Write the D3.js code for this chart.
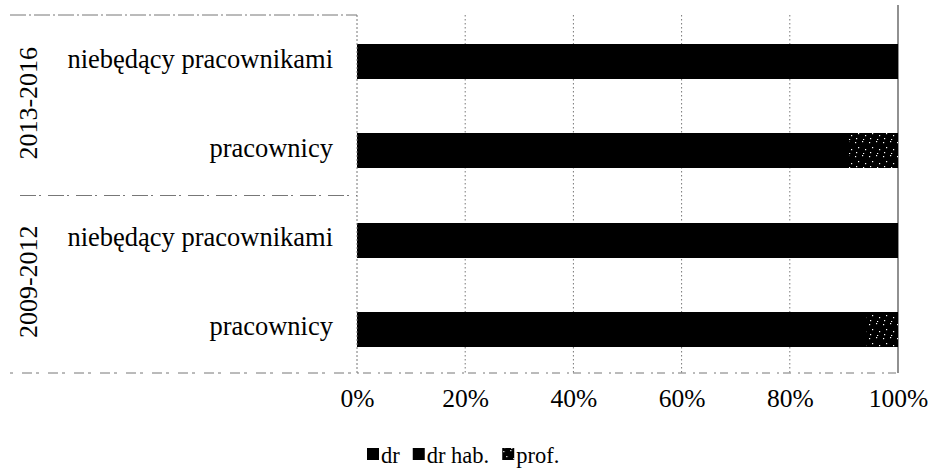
<!DOCTYPE html>
<html>
<head>
<meta charset="utf-8">
<script src="https://cdn.jsdelivr.net/npm/d3@7/dist/d3.min.js"></script>
<style>
  html, body { margin: 0; padding: 0; background: #fff; }
</style>
</head>
<body>
<svg id="chart" width="930" height="470" font-family="Liberation Serif"></svg>
<script>
// Row categories (top to bottom) and the period each row belongs to
const periods = ["2013-2016", "2009-2012"];
const rowLabels = ["niebędący pracownikami", "pracownicy", "niebędący pracownikami", "pracownicy"];
const rowPeriods = ["2013-2016", "2013-2016", "2009-2012", "2009-2012"];

// Share of each academic degree, in percent
const seriesNames = ["dr", "dr hab.", "prof."];
const drValues    = [100, 88, 100, 92];
const drHabValues = [0, 3, 0, 2];
const profValues  = [0, 9, 0, 6];

const tickValues = [0, 20, 40, 60, 80, 100];
const tickLabels = ["0%", "20%", "40%", "60%", "80%", "100%"];

const FONT = '"Liberation Serif"';
const serif = sel => sel.attr("font-family", "Liberation Serif").style("font-family", FONT);

const svg = d3.select("#chart");
const plot = { left: 357, right: 898, top: 15, bottom: 373 };

// Speckled fill for the "prof." segment
const defs = svg.append("defs");
const pat = defs.append("pattern")
  .attr("id", "speckle").attr("patternUnits", "userSpaceOnUse")
  .attr("width", 14).attr("height", 14);
pat.append("rect").attr("width", 14).attr("height", 14).attr("fill", "#000");
[[1, 2], [8, 1], [4, 7], [11, 9], [2, 12], [9, 13]].forEach(([x, y]) =>
  pat.append("rect").attr("x", x).attr("y", y).attr("width", 1.2).attr("height", 1.2).attr("fill", "#fff"));

const x = d3.scaleLinear().domain([0, 100]).range([plot.left, plot.right]);
const y = d3.scaleBand()
  .domain(d3.range(rowLabels.length))
  .range([plot.top + 2, plot.bottom + 1])
  .paddingInner(0.61).paddingOuter(0.305);

const fills = { "dr": "#000", "dr hab.": "#000", "prof.": "url(#speckle)" };

// Vertical gridlines
svg.append("g")
  .selectAll("line").data(tickValues.filter(v => v > 0 && v < 100)).join("line")
  .attr("x1", d => x(d)).attr("x2", d => x(d))
  .attr("y1", plot.top).attr("y2", plot.bottom)
  .attr("stroke", "#777").attr("stroke-width", 1).attr("stroke-dasharray", "1.5,2.5");

// 100% line
svg.append("line")
  .attr("x1", x(100)).attr("x2", x(100)).attr("y1", 5).attr("y2", plot.bottom)
  .attr("stroke", "#555").attr("stroke-width", 1.3);

// Stacked bars
const rows = rowLabels.map((label, i) => ({
  i, "dr": drValues[i], "dr hab.": drHabValues[i], "prof.": profValues[i]
}));
const stacked = d3.stack().keys(seriesNames)(rows);
svg.append("g").attr("shape-rendering", "crispEdges")
  .selectAll("g").data(stacked).join("g")
  .attr("fill", s => fills[s.key])
  .selectAll("rect").data(s => s).join("rect")
  .attr("x", d => x(d[0]))
  .attr("width", d => x(d[1]) - x(d[0]))
  .attr("y", d => y(d.data.i))
  .attr("height", y.bandwidth());

// Category axis frame lines
const frame = svg.append("g").attr("stroke", "#777").attr("stroke-width", 1).attr("fill", "none");
frame.append("line").attr("x1", 10).attr("x2", plot.left).attr("y1", plot.top).attr("y2", plot.top)
  .attr("stroke-dasharray", "16,3,2,3");
const sepY = (y(1) + y.bandwidth() + y(2)) / 2;
frame.append("line").attr("x1", 20).attr("x2", plot.left).attr("y1", sepY).attr("y2", sepY)
  .attr("stroke-dasharray", "16,3,2,7");
frame.append("line").attr("x1", 10).attr("x2", plot.left).attr("y1", plot.bottom).attr("y2", plot.bottom)
  .attr("stroke-dasharray", "3,9,10,4");
frame.append("line").attr("x1", plot.left).attr("x2", plot.right).attr("y1", plot.bottom).attr("y2", plot.bottom)
  .attr("stroke-dasharray", "2,4,8,7");
frame.append("line").attr("x1", plot.left).attr("x2", plot.left).attr("y1", plot.top).attr("y2", plot.bottom)
  .attr("stroke-dasharray", "2,2");

// Row labels
svg.append("g")
  .selectAll("text").data(rowLabels).join("text")
  .attr("x", plot.left - 24)
  .attr("y", (d, i) => y(i) + y.bandwidth() / 2 + 6)
  .attr("text-anchor", "end")
  .call(serif)
  .attr("font-size", 26.5).attr("fill", "#000")
  .text(d => d);

// Period labels, rotated
svg.append("g")
  .selectAll("text").data(periods).join("text")
  .attr("transform", p => {
    const idx = rowPeriods.map((r, i) => r === p ? i : -1).filter(i => i >= 0);
    const cy = d3.mean(idx, i => y(i) + y.bandwidth() / 2) - 3;
    return `translate(37,${cy}) rotate(-90)`;
  })
  .attr("text-anchor", "middle")
  .call(serif)
  .attr("font-size", 26).attr("fill", "#000")
  .text(d => d);

// Percentage axis
const xAxis = d3.axisBottom(x).tickValues(tickValues)
  .tickFormat((d, i) => tickLabels[i]).tickSize(0).tickPadding(0);
const ax = svg.append("g").attr("transform", `translate(0,${plot.bottom})`).call(xAxis);
ax.call(serif).attr("font-size", 25.5);
ax.select(".domain").remove();
ax.selectAll("text")
  .call(serif)
  .attr("font-size", 25.5).attr("fill", "#000")
  .attr("dy", null).attr("y", 34);

// Legend
const legend = svg.append("g").attr("transform", "translate(367,463)").call(serif);
let lx = 0;
seriesNames.forEach(name => {
  const g = legend.append("g").attr("transform", `translate(${lx},0)`);
  g.append("rect").attr("x", 0).attr("y", -15).attr("width", 12).attr("height", 12)
    .attr("fill", fills[name]);
  const t = g.append("text").attr("x", 14).attr("y", 0)
    .call(serif)
    .attr("font-size", 22.5).attr("fill", "#000").text(name);
  lx += 14 + t.node().getComputedTextLength() + 13;
});
</script>
</body>
</html>
